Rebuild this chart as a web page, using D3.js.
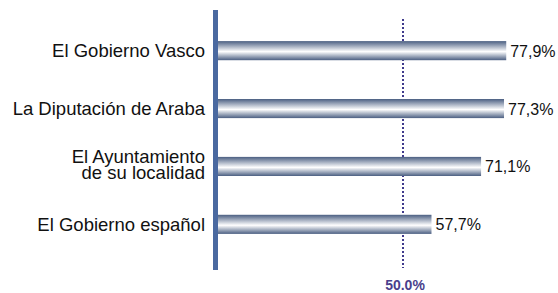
<!DOCTYPE html>
<html>
<head>
<meta charset="utf-8">
<script src="https://cdn.jsdelivr.net/npm/d3@7"></script>
<style>
  body { margin: 0; background: #fff; }
  svg { display: block; font-family: "Liberation Sans", Arial, sans-serif; }
</style>
</head>
<body>
<div id="chart"></div>
<script>
const categories = [
	["El Gobierno Vasco"],
	["La Diputación de Araba"],
	["El Ayuntamiento", "de su localidad"],
	["El Gobierno español"]
];
const values = [77.9, 77.3, 71.1, 57.7];
const valueLabels = ["77,9%", "77,3%", "71,1%", "57,7%"];
const refValue = 50;
const refLabel = "50.0%";

const width = 558;
const height = 293;

const svg = d3
	.select("#chart")
	.append("svg")
	.attr("width", width)
	.attr("height", height);

// degradado de las barras
const grad = svg
	.append("defs")
	.append("linearGradient")
	.attr("id", "barGrad")
	.attr("x1", 0).attr("y1", 0)
	.attr("x2", 0).attr("y2", 1);
grad.append("stop").attr("offset", "0%").attr("stop-color", "#4b5f82");
grad.append("stop").attr("offset", "55%").attr("stop-color", "#ffffff");
grad.append("stop").attr("offset", "100%").attr("stop-color", "#4b5f82");

const x = d3.scaleLinear().domain([0, 100]).range([218, 588]);

const y = d3
	.scaleBand()
	.domain(d3.range(categories.length))
	.range([22, 253])
	.paddingInner(0.67)
	.paddingOuter(0.33);

// línea de referencia punteada
svg.append("line")
	.attr("x1", x(refValue))
	.attr("x2", x(refValue))
	.attr("y1", 19)
	.attr("y2", 268)
	.attr("stroke", "#3f3a8c")
	.attr("stroke-width", 2)
	.attr("stroke-dasharray", "2,2");

svg.append("text")
	.attr("x", x(refValue) + 2)
	.attr("y", 290)
	.attr("text-anchor", "middle")
	.attr("font-size", 14)
	.attr("font-weight", "bold")
	.attr("fill", "#4a3f8c")
	.text(refLabel);

// barras
svg.selectAll(".bar")
	.data(values)
	.enter()
	.append("rect")
	.attr("class", "bar")
	.attr("x", x(0))
	.attr("y", (d, i) => y(i))
	.attr("width", (d) => x(d) - x(0))
	.attr("height", y.bandwidth())
	.attr("fill", "url(#barGrad)");

// etiquetas de valor
svg.selectAll(".val")
	.data(values)
	.enter()
	.append("text")
	.attr("class", "val")
	.attr("x", (d) => x(d) + 4)
	.attr("y", (d, i) => y(i) + y.bandwidth() / 2 + 6)
	.attr("font-size", 16)
	.attr("fill", "#111")
	.text((d, i) => valueLabels[i]);

// eje vertical
svg.append("line")
	.attr("x1", 215.5)
	.attr("x2", 215.5)
	.attr("y1", 10)
	.attr("y2", 270)
	.attr("stroke", "#4a69a0")
	.attr("stroke-width", 5);

// etiquetas de categoría
const cat = svg.selectAll(".cat")
	.data(categories)
	.enter()
	.append("text")
	.attr("class", "cat")
	.attr("text-anchor", "end")
	.attr("font-size", 18.5)
	.attr("fill", "#111")
	.attr("transform", (d, i) => {
		const cy = y(i) + y.bandwidth() / 2;
		const off = d.length === 1 ? 6.5 : -3.5;
		return `translate(205,${cy + off})`;
	});

cat.selectAll("tspan")
	.data((d) => d)
	.enter()
	.append("tspan")
	.attr("x", 0)
	.attr("dy", (d, i) => (i === 0 ? 0 : 16.5))
	.text((d) => d);
</script>
</body>
</html>
